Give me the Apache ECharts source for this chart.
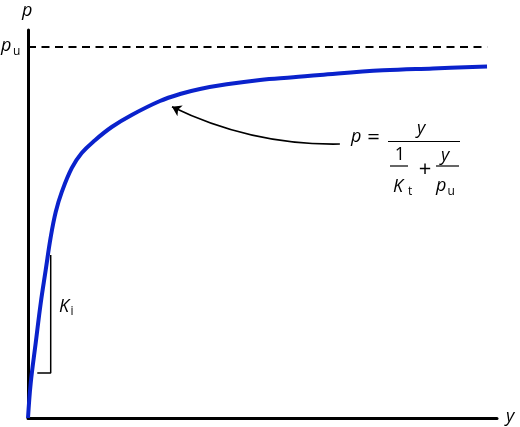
<!DOCTYPE html>
<html><head><meta charset="utf-8">
<script src="https://cdn.jsdelivr.net/npm/echarts@6/dist/echarts.min.js"></script>
<style>html,body{margin:0;padding:0;background:#fff}#c{width:520px;height:427px}</style>
</head><body><div id="c"></div>
<script>
// Data (arbitrary units, schematic): y (substrate) vs p (rate)
const curveY = [0, 0.58, 1.64, 2.71, 3.77, 4.84, 5.91, 7.19, 9.32, 11.45, 14.29, 17.85, 22.11, 28.14, 32.41, 36.67, 42.37, 49.47, 56.57, 62.26, 75.69, 86.35, 97.87];
const curveP = [0, 9.0, 19.3, 29.6, 38.1, 46.6, 53.1, 58.2, 64.4, 68.3, 71.6, 75.0, 78.1, 81.7, 83.5, 84.8, 86.0, 87.1, 87.8, 88.4, 89.6, 90.1, 90.6];
const puLevel = 95.6;
const puExtent = [0, 97.9];
const kiBracketX = [1.98, 4.84, 4.84];
const kiBracketY = [11.6, 11.6, 42.0];
const arrowFrom = [66.5, 70.6];
const arrowTo = [30.7, 80.2];

const chart = echarts.init(document.getElementById('c'), null, {renderer: 'canvas'});
const FONT = '"Open Sans", "Noto Sans", sans-serif';
const mk = (txt, x, baseline, size, italic, align) => ({type: 'text', x: x, y: baseline - 0.28 * size,
  style: {text: txt, font: (italic ? 'italic ' : '') + size + 'px ' + FONT, fill: '#000', align: align || 'left', verticalAlign: 'middle'}});
const ital = (txt, x, b, s) => mk(txt, x, b, s, true);
const up = (txt, x, b, s, a) => mk(txt, x, b, s, false, a);
const bar = (x1, x2, y) => ({type: 'line', shape: {x1: x1, y1: y, x2: x2, y2: y}, style: {stroke: '#000', lineWidth: 1.2}});

chart.setOption({
  animation: false,
  backgroundColor: '#fff',
  grid: {left: 28, right: 23, top: 30, bottom: 9},
  xAxis: {type: 'value', min: 0, max: 100, axisLine: {show: true, lineStyle: {color: '#000', width: 3}}, axisTick: {show: false}, axisLabel: {show: false}, splitLine: {show: false}},
  yAxis: {type: 'value', min: 0, max: 100, axisLine: {show: true, lineStyle: {color: '#000', width: 3}}, axisTick: {show: false}, axisLabel: {show: false}, splitLine: {show: false}},
  series: [
    {type: 'line', data: puExtent.map(x => [x, puLevel]), symbol: 'none', lineStyle: {color: '#000', width: 2, type: [8, 5.5]}, z: 2},
    {type: 'line', data: curveY.map((x, i) => [x, curveP[i]]), symbol: 'none', smooth: 0.4, lineStyle: {color: '#0a22cc', width: 4}, z: 3},
    {type: 'line', data: kiBracketX.map((x, i) => [x, kiBracketY[i]]), symbol: 'none', lineStyle: {color: '#000', width: 1.5}, z: 2},
    {type: 'lines', coordinateSystem: 'cartesian2d', symbol: ['none', 'arrow'], symbolSize: 9,
      lineStyle: {color: '#000', width: 1.6, curveness: 0.12, opacity: 1},
      data: [{coords: [arrowFrom, arrowTo]}], z: 4}
  ],
  graphic: [
    ital('p', 22, 16, 18),
    ital('p', 1, 51, 18), up('u', 13, 54.5, 12),
    ital('y', 506, 422, 18),
    ital('K', 59, 312, 18), up('i', 70.5, 315, 12),
    ital('p', 351, 142, 18), up('=', 373.5, 144, 22, 'center'),
    bar(388, 460, 141.5),
    ital('y', 417, 134, 18),
    up('1', 400, 160, 18, 'center'),
    bar(390, 408, 166),
    up('+', 425, 175.5, 22, 'center'),
    ital('y', 441, 161, 18),
    bar(436, 459, 166),
    ital('K', 393, 192, 18), up('t', 408, 195, 12),
    ital('p', 436, 191, 18), up('u', 447.5, 195, 12)
  ]
});
</script></body></html>
